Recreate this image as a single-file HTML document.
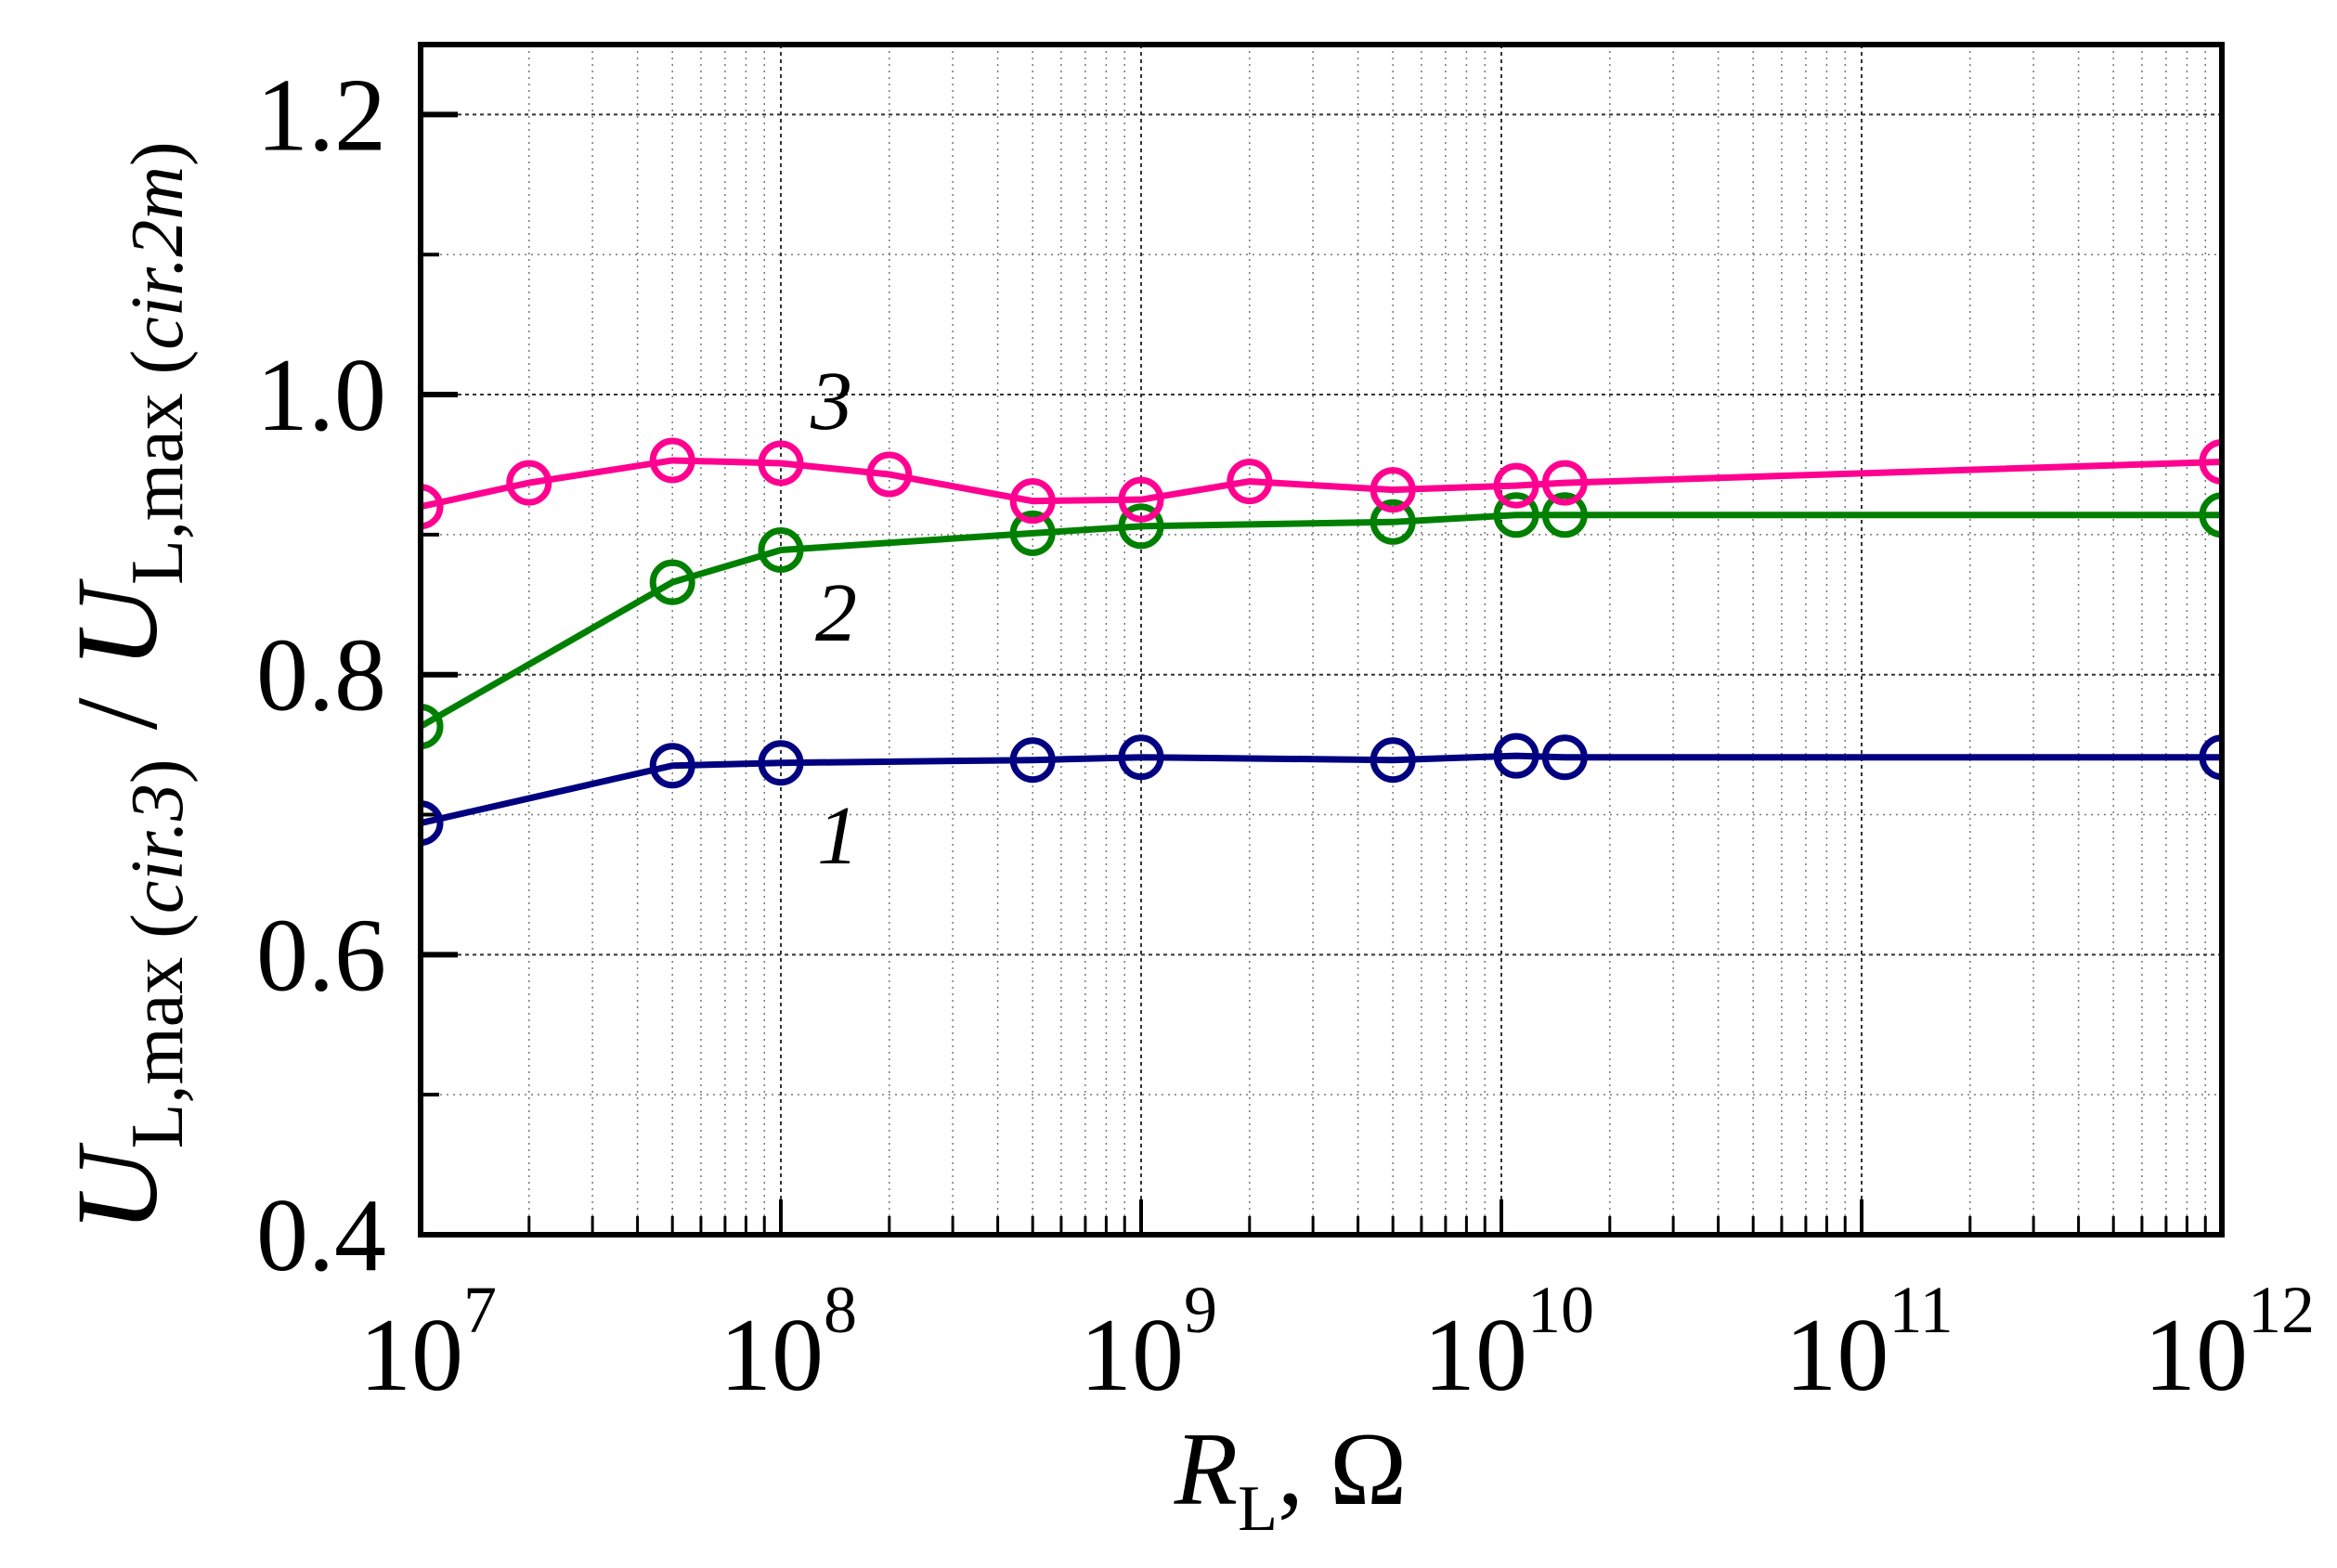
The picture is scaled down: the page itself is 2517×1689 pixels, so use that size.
<!DOCTYPE html>
<html><head><meta charset="utf-8"><style>
html,body{margin:0;padding:0;background:#fff;}
svg, svg text{font-family:"Liberation Serif","Times New Roman",Times,serif;}
</style></head><body>
<svg id="chart" width="2517" height="1684" viewBox="0 0 2517 1684" xmlns="http://www.w3.org/2000/svg" font-family="Liberation Serif, Times New Roman, serif">
<defs><clipPath id="plotclip"><rect x="453" y="48" width="1940" height="1282"/></clipPath></defs>
<g id="grid"></g>
<g id="ticks"></g>
<g id="series" clip-path="url(#plotclip)"></g>
<rect x="453" y="48" width="1940" height="1282" fill="none" stroke="#000" stroke-width="6"/>
<g id="labels" font-size="112" fill="#000"></g>
<text x="1390" y="1620" font-size="112" text-anchor="middle"><tspan font-style="italic">R</tspan><tspan font-size="70" dy="28">L</tspan><tspan dy="-28">, Ω</tspan></text>
<text transform="translate(168,740) rotate(-90)" font-size="125" text-anchor="middle"><tspan font-style="italic">U</tspan><tspan font-size="80" dy="28">L,max (</tspan><tspan font-size="80" font-style="italic">cir.3</tspan><tspan font-size="80">)</tspan><tspan dy="-28"> / </tspan><tspan font-style="italic">U</tspan><tspan font-size="80" dy="28">L,max (</tspan><tspan font-size="80" font-style="italic">cir.2m</tspan><tspan font-size="80">)</tspan></text>
<text x="873" y="462" font-size="90" font-style="italic">3</text>
<text x="878" y="690" font-size="90" font-style="italic">2</text>
<text x="880" y="930" font-size="90" font-style="italic">1</text>
</svg>
<script>
const xs3 = [1e7, 2e7, 5e7, 1e8, 2e8, 5e8, 1e9, 2e9, 5e9, 1.1e10, 1.5e10, 1e12];
const ys3 = [0.920, 0.937, 0.953, 0.951, 0.943, 0.924, 0.925, 0.938, 0.932, 0.935, 0.937, 0.952];
const xs2 = [1e7, 5e7, 1e8, 5e8, 1e9, 5e9, 1.1e10, 1.5e10, 1e12];
const ys2 = [0.763, 0.866, 0.889, 0.901, 0.906, 0.909, 0.914, 0.914, 0.914];
const xs1 = [1e7, 5e7, 1e8, 5e8, 1e9, 5e9, 1.1e10, 1.5e10, 1e12];
const ys1 = [0.694, 0.735, 0.737, 0.739, 0.741, 0.739, 0.742, 0.741, 0.741];
const xExps = [7, 8, 9, 10, 11, 12];
const yTicks = ["0.4", "0.6", "0.8", "1.0", "1.2"];

const L=453,R=2393,T=48,B=1330;
const X=v=>L+(Math.log10(v)-7)/5*(R-L);
const Y=v=>B-(v-0.4)/0.85*(B-T);
const NS="http://www.w3.org/2000/svg";
function mk(tag,attrs,parent){const e=document.createElementNS(NS,tag);for(const k in attrs)e.setAttribute(k,attrs[k]);parent.appendChild(e);return e;}
const grid=document.getElementById('grid'),ticks=document.getElementById('ticks'),labels=document.getElementById('labels'),series=document.getElementById('series');
for(let e=7;e<12;e++){for(let m=2;m<10;m++){const x=X(m*Math.pow(10,e));
 const g=mk('line',{x1:x,x2:x,y1:T,y2:B,stroke:'#777','stroke-width':1.5,'stroke-dasharray':'2,5'},grid);
 const t=mk('line',{x1:x,x2:x,y1:B,y2:B-20,stroke:'#000','stroke-width':3},ticks);}}
xExps.forEach(e=>{const x=X(Math.pow(10,e));
 const g=mk('line',{x1:x,x2:x,y1:T,y2:B,stroke:'#333','stroke-width':2,'stroke-dasharray':'4,4'},grid);
 const t=mk('line',{x1:x,x2:x,y1:B,y2:B-38,stroke:'#000','stroke-width':4},ticks);
 const tx=mk('text',{x:x+8,y:1497,'text-anchor':'middle'},labels);
 tx.innerHTML='10<tspan font-size="72" dy="-62">'+e+'</tspan>';});
for(let v=0.5;v<1.25;v+=0.2){const y=Y(v);
 const g=mk('line',{x1:L,x2:R,y1:y,y2:y,stroke:'#777','stroke-width':1.5,'stroke-dasharray':'2,5'},grid);
 const t=mk('line',{x1:L,x2:L+20,y1:y,y2:y,stroke:'#000','stroke-width':4},ticks);}
yTicks.forEach(s=>{const y=Y(parseFloat(s));
 const g=mk('line',{x1:L,x2:R,y1:y,y2:y,stroke:'#333','stroke-width':2,'stroke-dasharray':'4,4'},grid);
 const t=mk('line',{x1:L,x2:L+40,y1:y,y2:y,stroke:'#000','stroke-width':6},ticks);
 const tx=mk('text',{x:416,y:y+38,'text-anchor':'end'},labels);tx.textContent=s;});
function draw(xs,ys,col,name){
 const pts=xs.map((x,i)=>X(x)+','+Y(ys[i])).join(' ');
 const pl=mk('polyline',{points:pts,fill:'none',stroke:col,'stroke-width':7},series);
 
 
 xs.forEach((x,i)=>{const c=mk('circle',{cx:X(x),cy:Y(ys[i]),r:21,fill:'none',stroke:col,'stroke-width':7},series);
  
  });
}
draw(xs1,ys1,'#000080','series-1');
draw(xs2,ys2,'#008000','series-2');
draw(xs3,ys3,'#ff0090','series-3');
</script>
</body></html>
